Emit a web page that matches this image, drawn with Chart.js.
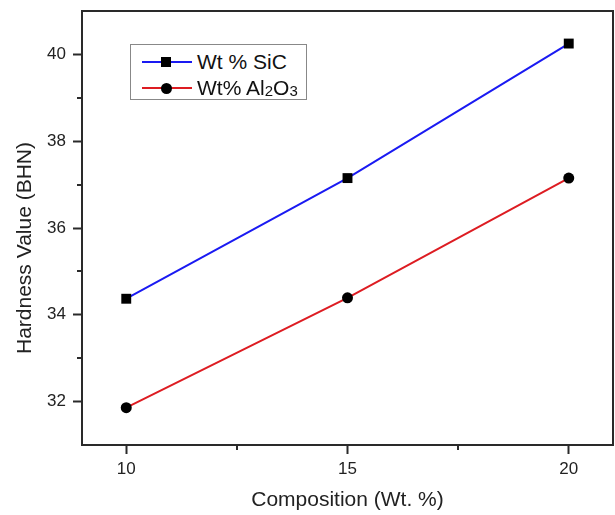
<!DOCTYPE html>
<html>
<head>
<meta charset="utf-8">
<script src="https://cdn.jsdelivr.net/npm/chart.js@4.4.1/dist/chart.umd.min.js"></script>
<style>
  html, body { margin: 0; padding: 0; background: #fff; }
  #wrap { position: relative; width: 615px; height: 515px; }
  #legend { position: absolute; left: 130px; top: 44px; width: 177px; height: 56px;
            border: 1px solid #888; background: #fff; box-sizing: border-box;
            font-family: "Liberation Sans", Arial, sans-serif; font-size: 21px; color: #111; }
  .row { position: absolute; left: 0; height: 26px; display: flex; align-items: center; }
  .sym { position: relative; width: 50px; height: 26px; margin-left: 11px; }
  .sym .ln { position: absolute; left: 0; top: 12px; width: 50px; height: 2px; }
  .sym .mk { position: absolute; background: #000; }
  .lbl { margin-left: 5px; white-space: nowrap; }
  .lbl sub { font-size: 15px; vertical-align: -1px; line-height: 0; }
</style>
</head>
<body>
<div id="wrap">
  <canvas id="c" width="615" height="515"></canvas>
  <div id="legend"></div>
</div>
<script>
// ---- data ----
const composition = [10, 15, 20];
const sicHardness = [34.37, 37.15, 40.25];
const aluminaHardness = [31.86, 34.39, 37.15];
const seriesLabels = ['Wt % SiC', 'Wt% Al2O3'];
const xMajorTicks = [10, 15, 20];
const xMinorTicks = [12.5, 17.5];
const yMajorTicks = [32, 34, 36, 38, 40];
const yMinorTicks = [33, 35, 37, 39];
const xTitle = 'Composition (Wt. %)';
const yTitle = 'Hardness Value (BHN)';

const FONT = '"Liberation Sans", Arial, sans-serif';
const AXIS = '#2a2a2a';

const extras = {
  id: 'extras',
  afterDraw(chart) {
    const ctx = chart.ctx, x = chart.scales.x, y = chart.scales.y, a = chart.chartArea;
    ctx.save();
    // minor ticks
    ctx.strokeStyle = AXIS; ctx.lineWidth = 2;
    xMinorTicks.forEach(v => {
      const px = Math.round(x.getPixelForValue(v));
      ctx.beginPath(); ctx.moveTo(px, a.bottom); ctx.lineTo(px, a.bottom + 5); ctx.stroke();
    });
    yMinorTicks.forEach(v => {
      const py = Math.round(y.getPixelForValue(v));
      ctx.beginPath(); ctx.moveTo(a.left, py); ctx.lineTo(a.left - 5, py); ctx.stroke();
    });
    // y axis title (placed slightly below the axis centre, as in the original)
    ctx.fillStyle = '#222';
    ctx.font = '21px ' + FONT;
    ctx.textAlign = 'center'; ctx.textBaseline = 'middle';
    ctx.translate(y.left + 12.5, (a.top + a.bottom) / 2 + 20);
    ctx.rotate(-Math.PI / 2);
    ctx.fillText(yTitle, 0, 0);
    ctx.restore();
  }
};

function noPad(s) { s.paddingTop = 0; s.paddingBottom = 0; s.paddingLeft = 0; s.paddingRight = 0; }

const chart = new Chart(document.getElementById('c'), {
  type: 'line',
  data: {
    datasets: [
      { label: seriesLabels[0], data: composition.map((c, i) => ({ x: c, y: sicHardness[i] })),
        borderColor: '#1a1af2', borderWidth: 2, pointStyle: 'rect', pointRadius: 7,
        pointBackgroundColor: '#000', pointBorderColor: '#000', pointBorderWidth: 0, tension: 0 },
      { label: seriesLabels[1], data: composition.map((c, i) => ({ x: c, y: aluminaHardness[i] })),
        borderColor: '#dd1c22', borderWidth: 2, pointStyle: 'circle', pointRadius: 5.5,
        pointBackgroundColor: '#000', pointBorderColor: '#000', pointBorderWidth: 0, tension: 0 }
    ]
  },
  options: {
    responsive: false, animation: false, devicePixelRatio: 1,
    layout: { autoPadding: false, padding: { left: 13, top: 11, right: 2, bottom: 0 } },
    plugins: { legend: { display: false }, tooltip: { enabled: false } },
    scales: {
      x: {
        type: 'linear', position: 'bottom', min: 9, max: 21,
        afterBuildTicks: s => { s.ticks = xMajorTicks.map(v => ({ value: v })); },
        afterFit: s => { s.height = 70; noPad(s); },
        grid: { display: true, drawOnChartArea: false, drawTicks: true, tickLength: 9, tickColor: AXIS, tickWidth: 2 },
        border: { display: true, color: AXIS, width: 2 },
        ticks: { padding: 5, color: '#222', font: { family: FONT, size: 17 }, maxRotation: 0 },
        title: { display: true, text: xTitle, color: '#222', font: { family: FONT, size: 21 }, padding: { top: 0, bottom: 2 } }
      },
      y: {
        type: 'linear', position: 'left', min: 31, max: 41,
        afterBuildTicks: s => { s.ticks = yMajorTicks.map(v => ({ value: v })); },
        afterFit: s => { s.width = 69; noPad(s); },
        grid: { display: true, drawOnChartArea: false, drawTicks: true, tickLength: 9, tickColor: AXIS, tickWidth: 2 },
        border: { display: true, color: AXIS, width: 2 },
        ticks: { padding: 7, color: '#222', font: { family: FONT, size: 17 } },
        title: { display: false }
      },
      x2: {
        type: 'linear', position: 'top', min: 9, max: 21,
        afterFit: s => { s.height = 0; noPad(s); },
        grid: { display: false }, ticks: { display: false },
        border: { display: true, color: AXIS, width: 2 }
      },
      y2: {
        type: 'linear', position: 'right', min: 31, max: 41,
        afterFit: s => { s.width = 0; noPad(s); },
        grid: { display: false }, ticks: { display: false },
        border: { display: true, color: AXIS, width: 2 }
      }
    }
  },
  plugins: [extras]
});

// HTML legend built from the chart's datasets
const legend = document.getElementById('legend');
chart.data.datasets.forEach((ds, i) => {
  const row = document.createElement('div');
  row.className = 'row';
  row.style.top = (4 + i * 26) + 'px';
  const sym = document.createElement('div'); sym.className = 'sym';
  const ln = document.createElement('div'); ln.className = 'ln'; ln.style.background = ds.borderColor;
  const mk = document.createElement('div'); mk.className = 'mk';
  if (ds.pointStyle === 'rect') {
    mk.style.cssText += 'width:10px;height:10px;left:19px;top:8px;';
  } else {
    mk.style.cssText += 'width:11px;height:11px;left:18.5px;top:7.5px;border-radius:50%;';
  }
  sym.appendChild(ln); sym.appendChild(mk);
  const lbl = document.createElement('span'); lbl.className = 'lbl';
  lbl.innerHTML = ds.label.replace(/([A-Za-z])(\d)/g, '$1<sub>$2</sub>');
  row.appendChild(sym); row.appendChild(lbl);
  legend.appendChild(row);
});
</script>
</body>
</html>
